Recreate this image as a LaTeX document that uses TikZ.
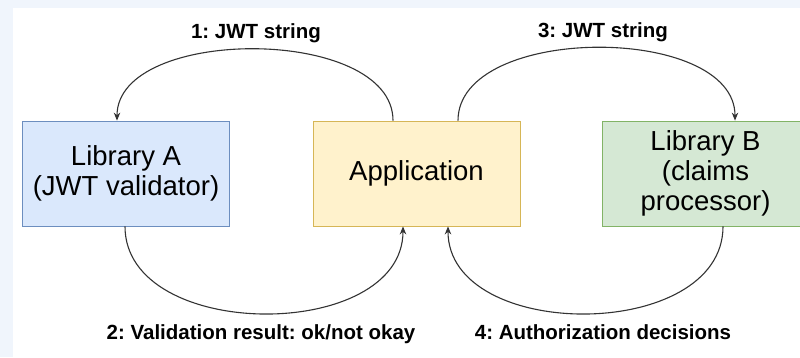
\documentclass[tikz,border=0pt]{standalone}
\usepackage{fontspec}
\setmainfont{Liberation Sans}
\usetikzlibrary{arrows.meta, calc}
\definecolor{pagebg}{RGB}{240, 245, 252}
\definecolor{valfill}{HTML}{DAE8FC}
\definecolor{valdraw}{HTML}{6C8EBF}
\definecolor{appfill}{HTML}{FFF2CC}
\definecolor{appdraw}{HTML}{D6B656}
\definecolor{claimfill}{HTML}{D5E8D4}
\definecolor{claimdraw}{HTML}{82B366}
\definecolor{flowgray}{RGB}{51, 51, 51}
\frenchspacing

\begin{document}
\begin{tikzpicture}[x=1pt, y=-1pt,
    box/.style={draw, line width=0.8pt, minimum width=207pt, minimum height=105pt,
        inner sep=0pt, align=center, font=\fontsize{27.5}{30}\selectfont},
    flow/.style={draw=flowgray, line width=1.1pt, -{Stealth[length=8pt, width=6.5pt]}},
    flowlabel/.style={anchor=base, font=\fontsize{20.5}{24}\selectfont\bfseries}]
        \useasboundingbox (0,0) rectangle (800,357);
        \clip (0,0) rectangle (800,357);

        % Page background
        \fill[pagebg] (0,0) rectangle (800,357);
        \fill[white] (13,8) rectangle (800,357);

        % Components
        \node[box, fill=valfill, draw=valdraw] (libA) at (126,173.5) {Library A\\(JWT validator)};
        \node[box, fill=appfill, draw=appdraw] (app) at (416.5,173.5) {Application};
        \node[box, fill=claimfill, draw=claimdraw] (libB) at (705.5,173.5) {Library B\\(claims\\processor)};

        % Token handed to the validator
        \draw[flow] ([xshift=-23.5pt]app.north) .. controls +(0,-95) and +(0,-95) .. ([xshift=-9pt]libA.north);
        \node[flowlabel] (msg1) at (256,38) {1: JWT string};

        % Validation result back to the application
        \draw[flow] ([xshift=-1pt]libA.south) .. controls +(0,116) and +(0,116) .. ([xshift=-13.5pt]app.south);
        \node[flowlabel] (msg2) at (261,339) {2: Validation result: ok/not okay};

        % Token handed to the claims processor
        \draw[flow] ([xshift=41.5pt]app.north) .. controls +(0,-97) and +(0,-97) .. ([xshift=29.5pt]libB.north);
        \node[flowlabel] (msg3) at (603,37) {3: JWT string};

        % Authorization decisions back to the application
        \draw[flow] ([xshift=17.5pt]libB.south) .. controls +(0,116) and +(0,116) .. ([xshift=31.5pt]app.south);
        \node[flowlabel] (msg4) at (603,339) {4: Authorization decisions};
    \end{tikzpicture}
\end{document}
